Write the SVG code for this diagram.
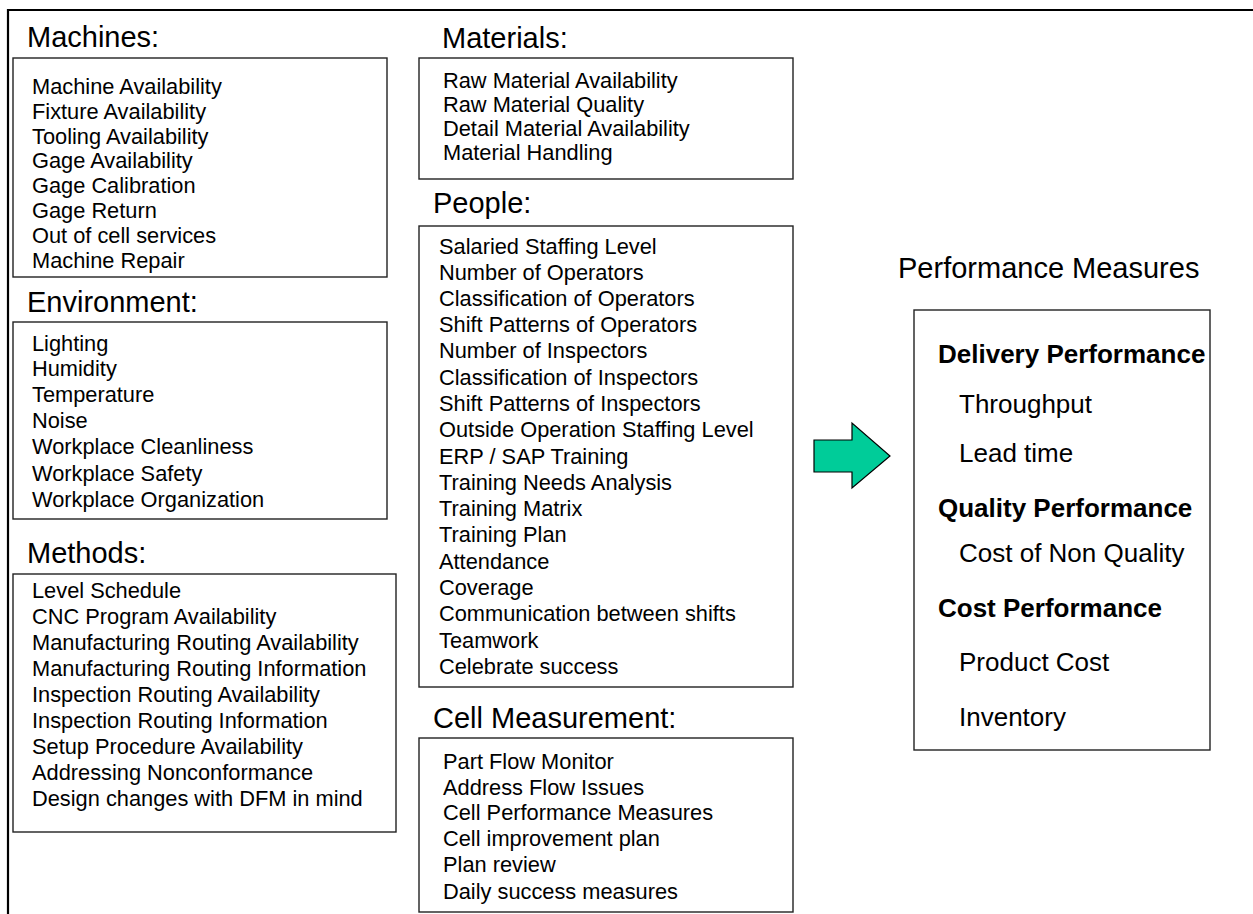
<svg xmlns="http://www.w3.org/2000/svg" width="1253" height="914" viewBox="0 0 1253 914">
<style>
.box{fill:#fff;stroke:#222;stroke-width:1.4}
.frame{stroke:#000;stroke-width:2.2;fill:none}
.t{font-family:"Liberation Sans",Arial,sans-serif;font-size:29px;fill:#000}
.i{font-family:"Liberation Sans",Arial,sans-serif;font-size:21.8px;fill:#000}
.p{font-family:"Liberation Sans",Arial,sans-serif;font-size:26px;fill:#000}
.pt{font-family:"Liberation Sans",Arial,sans-serif;font-size:29px;fill:#000}
.b{font-weight:bold}
.arrow{fill:#00CC99;stroke:#000;stroke-width:1.2}
</style>
<rect width="1253" height="914" fill="#fff"/>
<g id="frame">
<line class="frame" x1="8" y1="10" x2="1253" y2="10"/>
<line class="frame" x1="8" y1="9" x2="8" y2="914"/>
</g>
<g id="machines">
<text class="t" x="27" y="47">Machines:</text>
<rect class="box" x="13" y="58" width="374" height="219"/>
<text class="i" x="32" y="94">Machine Availability</text>
<text class="i" x="32" y="119">Fixture Availability</text>
<text class="i" x="32" y="144">Tooling Availability</text>
<text class="i" x="32" y="168">Gage Availability</text>
<text class="i" x="32" y="193">Gage Calibration</text>
<text class="i" x="32" y="218">Gage Return</text>
<text class="i" x="32" y="243">Out of cell services</text>
<text class="i" x="32" y="268">Machine Repair</text>
</g>
<g id="environment">
<text class="t" x="27" y="312">Environment:</text>
<rect class="box" x="13" y="322" width="374" height="197"/>
<text class="i" x="32" y="351">Lighting</text>
<text class="i" x="32" y="376">Humidity</text>
<text class="i" x="32" y="402">Temperature</text>
<text class="i" x="32" y="428">Noise</text>
<text class="i" x="32" y="454">Workplace Cleanliness</text>
<text class="i" x="32" y="481">Workplace Safety</text>
<text class="i" x="32" y="507">Workplace Organization</text>
</g>
<g id="methods">
<text class="t" x="27" y="563">Methods:</text>
<rect class="box" x="13" y="574" width="383" height="258"/>
<text class="i" x="32" y="598">Level Schedule</text>
<text class="i" x="32" y="624">CNC Program Availability</text>
<text class="i" x="32" y="650">Manufacturing Routing Availability</text>
<text class="i" x="32" y="676">Manufacturing Routing Information</text>
<text class="i" x="32" y="702">Inspection Routing Availability</text>
<text class="i" x="32" y="728">Inspection Routing Information</text>
<text class="i" x="32" y="754">Setup Procedure Availability</text>
<text class="i" x="32" y="780">Addressing Nonconformance</text>
<text class="i" x="32" y="806">Design changes with DFM in mind</text>
</g>
<g id="materials">
<text class="t" x="442" y="48">Materials:</text>
<rect class="box" x="419" y="58" width="374" height="121"/>
<text class="i" x="443" y="88">Raw Material Availability</text>
<text class="i" x="443" y="112">Raw Material Quality</text>
<text class="i" x="443" y="136">Detail Material Availability</text>
<text class="i" x="443" y="160">Material Handling</text>
</g>
<g id="people">
<text class="t" x="433" y="213">People:</text>
<rect class="box" x="419" y="226" width="374" height="461"/>
<text class="i" x="439" y="254">Salaried Staffing Level</text>
<text class="i" x="439" y="280">Number of Operators</text>
<text class="i" x="439" y="306">Classification of Operators</text>
<text class="i" x="439" y="332">Shift Patterns of Operators</text>
<text class="i" x="439" y="358">Number of Inspectors</text>
<text class="i" x="439" y="385">Classification of Inspectors</text>
<text class="i" x="439" y="411">Shift Patterns of Inspectors</text>
<text class="i" x="439" y="437">Outside Operation Staffing Level</text>
<text class="i" x="439" y="464">ERP / SAP Training</text>
<text class="i" x="439" y="490">Training Needs Analysis</text>
<text class="i" x="439" y="516">Training Matrix</text>
<text class="i" x="439" y="542">Training Plan</text>
<text class="i" x="439" y="569">Attendance</text>
<text class="i" x="439" y="595">Coverage</text>
<text class="i" x="439" y="621">Communication between shifts</text>
<text class="i" x="439" y="648">Teamwork</text>
<text class="i" x="439" y="674">Celebrate success</text>
</g>
<g id="cell-measurement">
<text class="t" x="433" y="728">Cell Measurement:</text>
<rect class="box" x="419" y="738" width="374" height="174"/>
<text class="i" x="443" y="769">Part Flow Monitor</text>
<text class="i" x="443" y="795">Address Flow Issues</text>
<text class="i" x="443" y="820">Cell Performance Measures</text>
<text class="i" x="443" y="846">Cell improvement plan</text>
<text class="i" x="443" y="872">Plan review</text>
<text class="i" x="443" y="899">Daily success measures</text>
</g>
<g id="connectors">
<polygon class="arrow" points="814,440 852,440 852,423 890,456 852,488 852,472 814,472"/>
</g>
<g id="performance">
<text class="pt" x="898" y="278">Performance Measures</text>
<rect class="box" x="914" y="310" width="296" height="440"/>
<text class="p b" x="938" y="363">Delivery Performance</text>
<text class="p" x="959" y="413">Throughput</text>
<text class="p" x="959" y="462">Lead time</text>
<text class="p b" x="938" y="517">Quality Performance</text>
<text class="p" x="959" y="562">Cost of Non Quality</text>
<text class="p b" x="938" y="617">Cost Performance</text>
<text class="p" x="959" y="671">Product Cost</text>
<text class="p" x="959" y="726">Inventory</text>
</g>
</svg>
